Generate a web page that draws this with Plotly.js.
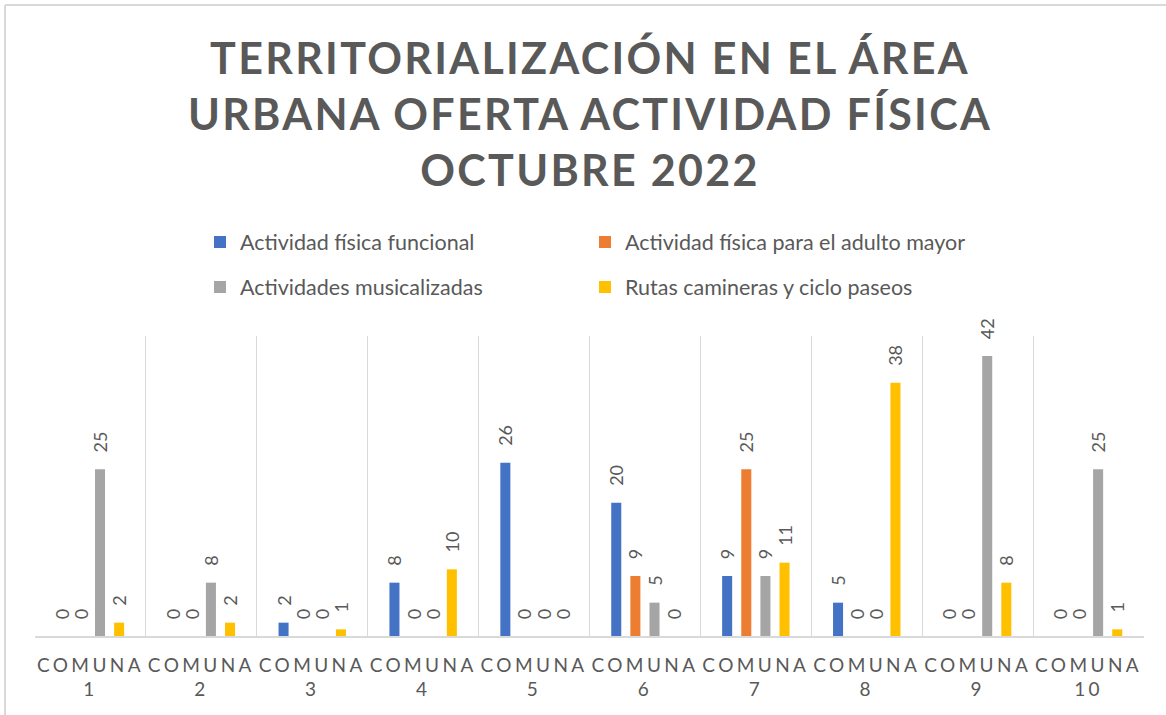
<!DOCTYPE html>
<html>
<head>
<meta charset="utf-8">
<script src="https://cdn.plot.ly/plotly-3.0.1.min.js"></script>
<style>
  html, body { margin: 0; padding: 0; background: #fff; }
  #chart { width: 1166px; height: 715px; }
  .gtitle { letter-spacing: 2.3px; }
  .xtick text { letter-spacing: 3.4px; }
</style>
</head>
<body>
<div id="chart"></div>
<script>
const categories = ["COMUNA<br>1", "COMUNA<br>2", "COMUNA<br>3", "COMUNA<br>4", "COMUNA<br>5",
                    "COMUNA<br>6", "COMUNA<br>7", "COMUNA<br>8", "COMUNA<br>9", "COMUNA<br>10"];
const seriesNames = ["Actividad física funcional", "Actividad física para el adulto mayor",
                     "Actividades musicalizadas", "Rutas camineras y ciclo paseos"];
const funcional    = [0, 0, 2, 8, 26, 20, 9, 5, 0, 0];
const adultoMayor  = [0, 0, 0, 0, 0, 9, 25, 0, 0, 0];
const musicalizadas = [25, 8, 0, 0, 0, 5, 9, 0, 42, 25];
const rutas        = [2, 2, 1, 10, 0, 0, 11, 38, 8, 1];
const colors = ["#4472C4", "#ED7D31", "#A5A5A5", "#FFC000"];
const titleText = "TERRITORIALIZACIÓN EN EL ÁREA<br>URBANA OFERTA ACTIVIDAD FÍSICA<br>OCTUBRE 2022";

const FONT = "Lato, 'Open Sans', sans-serif";
const TXT = "#595959";
const allSeries = [funcional, adultoMayor, musicalizadas, rutas];
const legendIds = ["legend", "legend2", "legend3", "legend4"];

const traces = allSeries.map((vals, i) => ({
  type: "bar",
  name: seriesNames[i],
  x: categories,
  y: vals,
  marker: { color: colors[i] },
  texttemplate: "\u00a0\u00a0\u00a0%{y}",
  textposition: "outside",
  textangle: -90,
  constraintext: "none",
  cliponaxis: false,
  textfont: { family: FONT, size: 18, color: TXT },
  outsidetextfont: { family: FONT, size: 18, color: TXT },
  legend: legendIds[i],
  hoverinfo: "x+y+name"
}));

function legendAt(xPx, yPx) {
  return {
    orientation: "h",
    xref: "container", yref: "container",
    xanchor: "left", yanchor: "middle",
    x: xPx / 1166, y: 1 - yPx / 715,
    font: { family: FONT, size: 21.5, color: TXT },
    bgcolor: "rgba(0,0,0,0)"
  };
}

const layout = {
  width: 1166, height: 715,
  margin: { l: 35, r: 22, t: 336, b: 79 },
  paper_bgcolor: "#fff", plot_bgcolor: "#fff",
  title: {
    text: titleText,
    font: { family: FONT, size: 43, color: TXT, weight: 700 },
    x: 590 / 1166, xanchor: "center",
    yref: "container", y: 1 - 74 / 715, yanchor: "top"
  },
  showlegend: true,
  legend: legendAt(200, 242),
  legend2: legendAt(585, 242),
  legend3: legendAt(200, 287),
  legend4: legendAt(585, 287),
  bargap: 0.31,
  bargroupgap: 0.476,
  xaxis: {
    type: "category",
    tickson: "boundaries",
    showgrid: true, gridcolor: "#D9D9D9", gridwidth: 1.3,
    showline: true, linecolor: "#D9D9D9", linewidth: 1.6,
    ticks: "",
    ticklabelstandoff: 11,
    tickfont: { family: FONT, size: 19, color: TXT },
    fixedrange: true
  },
  yaxis: {
    range: [0, 45],
    showgrid: false, zeroline: false, showticklabels: false, showline: false,
    fixedrange: true
  },
  shapes: [
    { type: "line", xref: "paper", yref: "paper",
      x0: (5 - 35) / 1109, x1: (1166 - 35) / 1109,
      y0: (715 - 5 - 79) / 300, y1: (715 - 5 - 79) / 300,
      line: { color: "#D9D9D9", width: 2 } },
    { type: "line", xref: "paper", yref: "paper",
      x0: (5 - 35) / 1109, x1: (5 - 35) / 1109,
      y0: (715 - 5 - 79) / 300, y1: -79 / 300,
      line: { color: "#D9D9D9", width: 2 } }
  ]
};

Plotly.newPlot("chart", traces, layout, { displayModeBar: false, staticPlot: false });
</script>
</body>
</html>
